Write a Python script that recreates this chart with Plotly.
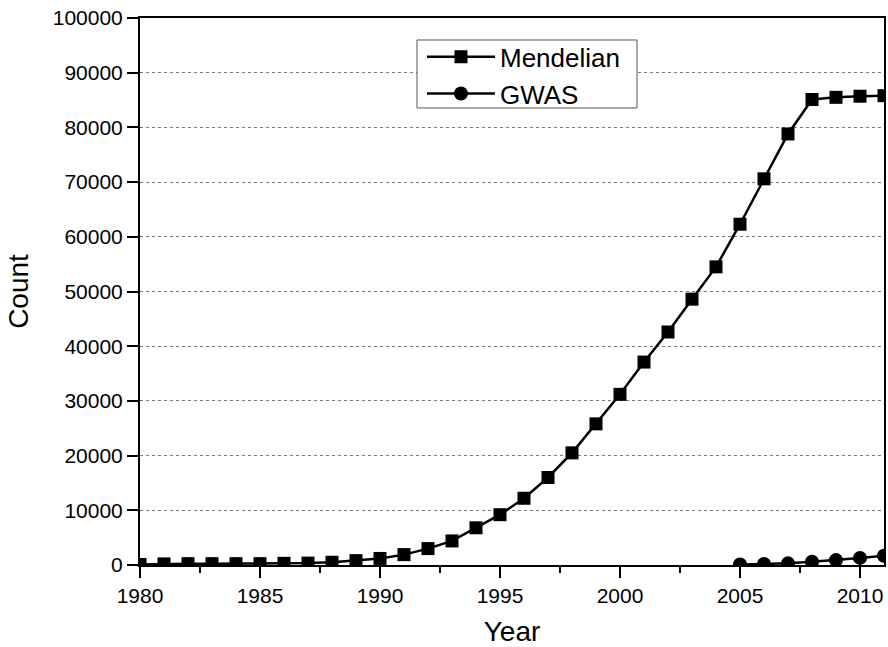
import plotly.graph_objects as go

years_mendelian = list(range(1980, 2012))
mendelian = [100, 200, 250, 250, 250, 250, 300, 350, 500, 800, 1200, 1900,
             3000, 4400, 6800, 9200, 12200, 16000, 20500, 25800, 31200, 37100,
             42600, 48600, 54500, 62300, 70600, 78800, 85100, 85500, 85700, 85800]

years_gwas = list(range(2005, 2012))
gwas = [100, 200, 300, 600, 900, 1300, 1700]

FONT = "Liberation Sans, Arial, sans-serif"

fig = go.Figure()
fig.add_trace(go.Scatter(
    x=years_mendelian, y=mendelian, name="Mendelian", mode="lines+markers",
    line=dict(color="black", width=2.5),
    marker=dict(symbol="square", size=13, color="black"),
))
fig.add_trace(go.Scatter(
    x=years_gwas, y=gwas, name="GWAS", mode="lines+markers",
    line=dict(color="black", width=2.5),
    marker=dict(symbol="circle", size=14, color="black"),
))

# Legend frame drawn as a shape so it can sit tight around the entries
fig.add_shape(
    type="rect", xref="paper", yref="paper",
    x0=0.3723, x1=0.668, y0=0.8355, y1=0.9598,
    line=dict(color="#555555", width=1), fillcolor="white", layer="above",
)

fig.update_layout(
    width=888, height=647,
    margin=dict(l=140, r=4, t=18, b=82),
    paper_bgcolor="white", plot_bgcolor="white",
    font=dict(family=FONT, size=21, color="black"),
    showlegend=True,
    legend=dict(
        x=0.379, y=0.972, xanchor="left", yanchor="top",
        bgcolor="rgba(0,0,0,0)", borderwidth=0,
        font=dict(size=26), itemwidth=68, tracegroupgap=0,
    ),
)

fig.update_xaxes(
    range=[1980, 2011], tickmode="linear", tick0=1980, dtick=5,
    ticks="outside", ticklen=11, tickwidth=2, tickcolor="black",
    showline=True, linewidth=2, linecolor="black", mirror=True,
    showgrid=False, zeroline=False, automargin=False,
    minor=dict(ticks="outside", ticklen=6, tickwidth=2, tickcolor="black",
               dtick=2.5, tick0=1980, showgrid=False),
    title=dict(text="Year", font=dict(size=28), standoff=18),
)
fig.update_yaxes(
    range=[0, 100000], tickmode="linear", tick0=0, dtick=10000,
    tickformat="d", automargin=False,
    ticks="outside", ticklen=11, tickwidth=2, tickcolor="black",
    showline=True, linewidth=2, linecolor="black", mirror=True,
    showgrid=True, gridcolor="#777777", gridwidth=1, griddash="dot",
    zeroline=False,
    title=dict(text="Count", font=dict(size=28), standoff=16),
)

fig.write_html("out.html")
